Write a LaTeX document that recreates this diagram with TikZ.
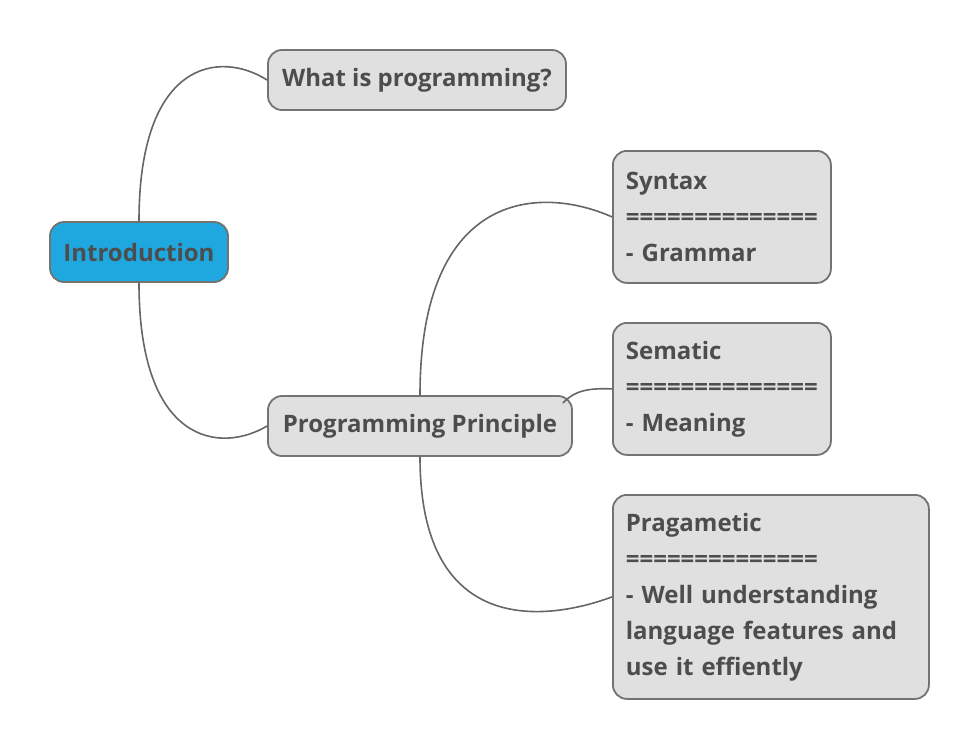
\documentclass[tikz,border=0pt]{standalone}
\usepackage{fontspec}
\setmainfont{Open Sans}
\definecolor{txt}{HTML}{4D4D4D}
\definecolor{boxfill}{HTML}{E0E0E0}
\definecolor{boxline}{HTML}{737373}
\definecolor{introfill}{HTML}{1FA7E0}
\definecolor{conn}{HTML}{666666}
\begin{document}
\begin{tikzpicture}[x=1pt,y=-1pt,
  font=\fontsize{24}{36}\selectfont\bfseries,
  topic/.style={draw=boxline, line width=1.8pt, fill=boxfill, rounded corners=14pt,
    text=txt, inner sep=0pt, minimum height=60pt},
  multi/.style={topic, align=left, anchor=north west},
  link/.style={draw=conn, line width=1.6pt}]
\useasboundingbox (0,0) rectangle (978,748);
\node[topic, fill=introfill, minimum width=178pt] (intro) at (139,252) {Introduction};
\node[topic, minimum width=298pt] (what) at (417,80) {What is programming?};
\node[topic, minimum width=304pt] (pp) at (420,426) {Programming Principle};
\node[multi, minimum width=218pt, minimum height=132pt, text width=192pt] (syn) at (612,150)
  {Syntax\\==============\\- Grammar};
\node[multi, minimum width=218pt, minimum height=132pt, text width=192pt] (sem) at (612,322)
  {Sematic\\==============\\- Meaning};
\node[multi, minimum width=316pt, minimum height=204pt, text width=290pt] (prag) at (612,494)
  {Pragametic\\==============\\- Well understanding\\language features and\\use it effiently};
\coordinate (ppne) at (563,403);
\draw[link] (intro.north) .. controls (139,60) and (220,50) .. (what.west);
\draw[link] (intro.south) .. controls (139,444) and (220,454) .. (pp.west);
\draw[link] (pp.north) .. controls (420,190) and (540,185) .. (syn.west);
\draw[link] (ppne) .. controls (575,390) and (590,388) .. (sem.west);
\draw[link] (pp.south) .. controls (420,640) and (550,620) .. (prag.west);
\end{tikzpicture}
\end{document}
